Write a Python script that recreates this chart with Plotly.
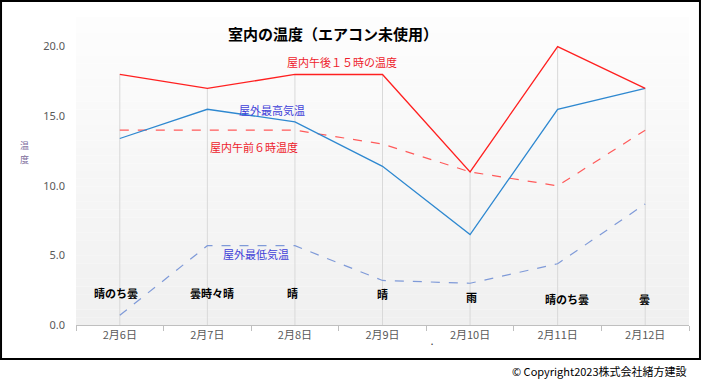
import plotly.graph_objects as go

dates = ["2月6日", "2月7日", "2月8日", "2月9日", "2月10日", "2月11日", "2月12日"]
indoor_15 = [18.0, 17.0, 18.0, 18.0, 11.0, 20.0, 17.0]
outdoor_max = [13.4, 15.5, 14.6, 11.4, 6.5, 15.5, 17.0]
indoor_6 = [14.0, 14.0, 14.0, 13.0, 11.0, 10.0, 14.0]
outdoor_min = [0.7, 5.7, 5.7, 3.2, 3.0, 4.4, 8.7]
weather = ["晴のち曇", "曇時々晴", "晴", "晴", "雨", "晴のち曇", "曇"]
weather_y = [2.3, 2.3, 2.3, 2.2, 2.0, 1.9, 1.9]
weather_dx = [-4, 5, -2, 0, 1, 9, -1]
y_ticks = [0, 5, 10, 15, 20]

FONT = "Noto Sans CJK JP"

fig = go.Figure()

# drop lines from the highest value of each day to the axis
dx, dy = [], []
for i, d in enumerate(dates):
    top = max(indoor_15[i], outdoor_max[i], indoor_6[i], outdoor_min[i])
    dx += [d, d, None]
    dy += [top, 0, None]
fig.add_trace(go.Scatter(x=dx, y=dy, mode="lines", line=dict(color="#d9d9d9", width=1),
                         hoverinfo="skip", showlegend=False))

fig.add_trace(go.Scatter(x=dates, y=outdoor_min, mode="lines", name="屋外最低気温",
                         line=dict(color="#7f9ad8", width=1.2, dash="dash")))
fig.add_trace(go.Scatter(x=dates, y=indoor_6, mode="lines", name="屋内午前6時温度",
                         line=dict(color="#ff5a5a", width=1.2, dash="dash")))
fig.add_trace(go.Scatter(x=dates, y=outdoor_max, mode="lines", name="屋外最高気温",
                         line=dict(color="#2e88d0", width=1.3)))
fig.add_trace(go.Scatter(x=dates, y=indoor_15, mode="lines", name="屋内午後15時の温度",
                         line=dict(color="#ff2020", width=1.3)))

# gradient background of plot area
n = 40
for k in range(n):
    t = k / (n - 1)
    c = int(round(253 - (253 - 240) * t))
    fig.add_shape(type="rect", xref="x domain", yref="y domain",
                  x0=0, x1=1, y0=1 - (k + 1) / n, y1=1 - k / n,
                  fillcolor=f"rgb({c},{c},{c})", line=dict(width=0), layer="below")

# chart border
fig.add_shape(type="rect", xref="paper", yref="paper",
              x0=-0.1223, x1=1.0179, y0=-0.110, y1=1.052,
              line=dict(color="black", width=2), fillcolor="rgba(0,0,0,0)")


def pa(text, x, y, color, size=11, xanchor="center", pad=1):
    return dict(text=text, x=x, y=y, xref="paper", yref="paper",
                xanchor=xanchor, yanchor="middle", showarrow=False, borderpad=pad,
                font=dict(family=FONT, size=size, color=color))


ann = []
ann.append(pa("<b>室内の温度（エアコン未使用）</b>", 0.419, 0.948, "black", size=15))
ann.append(pa("屋内午後１５時の温度", 0.434, 0.854, "#ee1c2c"))
ann.append(pa("屋外最高気温", 0.320, 0.698, "#3f3fd8"))
ann.append(pa("屋内午前６時温度", 0.290, 0.578, "#ee1c2c"))
ann.append(pa("屋外最低気温", 0.294, 0.230, "#3f3fd8"))
for d, w, wy, ddx in zip(dates, weather, weather_y, weather_dx):
    ann.append(dict(text=f"<b>{w}</b>", x=d, y=wy, xref="x", yref="y", xshift=ddx,
                    showarrow=False, font=dict(family=FONT, size=11, color="black")))
ann.append(pa("温", -0.084, 0.583, "#7a6a9a", size=9, pad=0))
ann.append(pa("度", -0.084, 0.537, "#7a6a9a", size=9, pad=0))
ann.append(pa("·", 0.580, -0.058, "#404040"))
ann.append(dict(text="© Copyright2023株式会社緒方建設", x=1.0, y=-0.149, xref="paper", yref="paper",
                xanchor="right", yanchor="middle", showarrow=False,
                font=dict(family=FONT, size=11, color="black")))

fig.update_layout(
    width=703, height=381,
    margin=dict(l=76, r=14, t=17, b=56),
    paper_bgcolor="white", plot_bgcolor="rgba(0,0,0,0)",
    showlegend=False,
    font=dict(family=FONT, size=11, color="#595959"),
    annotations=ann,
)
fig.update_xaxes(type="category", categoryarray=dates, range=[-0.5, 6.5],
                 tickson="boundaries", ticks="outside", ticklen=5, tickcolor="#bfbfbf",
                 showgrid=False, showline=True, linecolor="#bfbfbf", linewidth=1,
                 tickfont=dict(family=FONT, size=11, color="#595959"), fixedrange=True)
fig.update_yaxes(range=[0, 22.13], tickvals=y_ticks, tickformat=".1f",
                 showgrid=False, zeroline=False, showline=False, ticks="",
                 ticklabelstandoff=10,
                 tickfont=dict(family="Noto Sans", size=11, color="#595959"), fixedrange=True)

fig.write_html("out.html", config={"displayModeBar": False},
               post_script="document.body.style.margin='0';document.body.style.overflow='hidden';")
